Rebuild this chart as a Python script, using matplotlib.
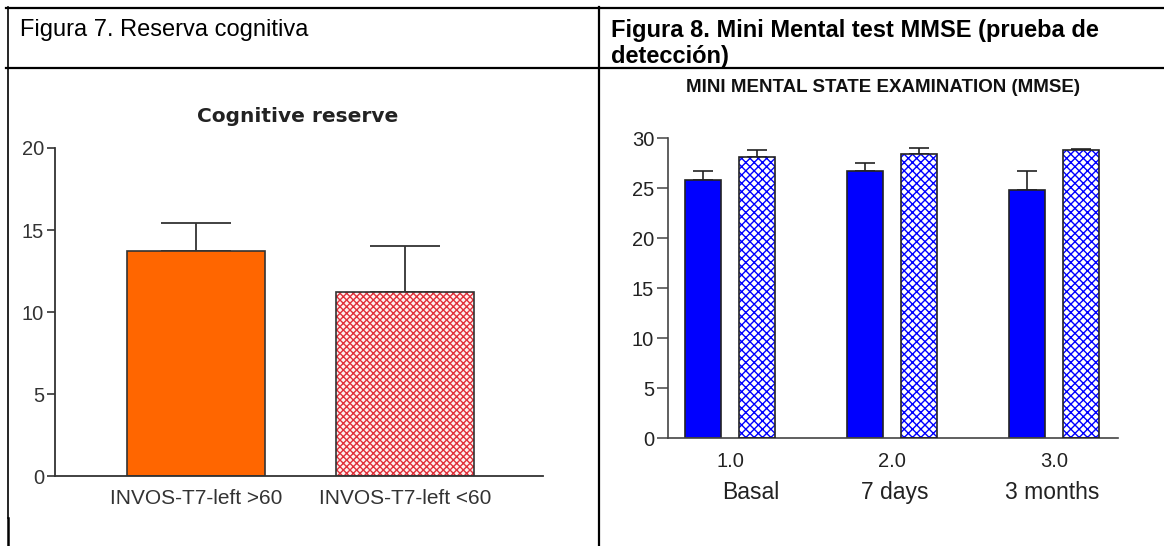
import matplotlib
matplotlib.use("Agg")
import matplotlib.pyplot as plt
from matplotlib.lines import Line2D

plt.rcParams['font.family'] = ['Liberation Sans', 'DejaVu Sans']
plt.rcParams['hatch.linewidth'] = 1.0

# ---- data: cognitive reserve ----
cr_groups = ["INVOS-T7-left >60", "INVOS-T7-left <60"]
cr_means = [13.7, 11.2]
cr_err = [1.7, 2.8]
cr_yticks = [0, 5, 10, 15, 20]

# ---- data: MMSE ----
mm_ticks = [1.0, 2.0, 3.0]
mm_tick_labels = ["1.0", "2.0", "3.0"]
mm_periods = ["Basal", "7 days", "3 months"]
mm_solid = [25.8, 26.7, 24.8]
mm_solid_err = [0.9, 0.8, 1.9]
mm_hatched = [28.1, 28.4, 28.8]
mm_hatched_err = [0.7, 0.6, 0.15]
mm_yticks = [0, 5, 10, 15, 20, 25, 30]

W, H = 1164, 546
fig = plt.figure(figsize=(W / 100, H / 100), dpi=100)
fig.patch.set_facecolor("white")


def box(x0, y0, x1, y1):
    """Axes rectangle from pixel coordinates (top-left origin)."""
    return [x0 / W, 1 - y1 / H, (x1 - x0) / W, (y1 - y0) / H]


def fx(x):
    return x / W


def fy(y):
    return 1 - y / H


# ---- table frame ----
frame_kw = dict(color="black", transform=fig.transFigure)
fig.add_artist(Line2D([fx(6), fx(1164)], [fy(8), fy(8)], lw=1.6, **frame_kw))
fig.add_artist(Line2D([fx(6), fx(1164)], [fy(67.5), fy(67.5)], lw=1.6, **frame_kw))
fig.add_artist(Line2D([fx(7.5), fx(7.5)], [fy(7), fy(518)], lw=1.2, **frame_kw))
fig.add_artist(Line2D([fx(7.5), fx(7.5)], [fy(518), fy(546)], lw=1.8, **frame_kw))
fig.add_artist(Line2D([fx(599), fx(599)], [fy(7), fy(546)], lw=1.6, **frame_kw))

fig.text(fx(20), fy(30), "Figura 7. Reserva cognitiva", fontsize=17,
         va="center", ha="left", color="black")
fig.text(fx(611), fy(31), "Figura 8. Mini Mental test MMSE (prueba de",
         fontsize=17, fontweight="bold", va="center", ha="left", color="black")
fig.text(fx(611), fy(57), "detección)",
         fontsize=17, fontweight="bold", va="center", ha="left", color="black")

# ---- left chart: cognitive reserve ----
gray = "#333333"
ax1 = fig.add_axes(box(55, 148, 543, 476))
x1 = list(range(len(cr_groups)))
ax1.bar(x1[:1], cr_means[:1], width=0.66, color="#ff6600",
        edgecolor=gray, linewidth=1.2, zorder=2)
ax1.bar(x1[1:], cr_means[1:], width=0.66, color="#fff0f0",
        edgecolor="#e0303a", hatch="xxxxx", linewidth=0, zorder=2)
ax1.bar(x1[1:], cr_means[1:], width=0.66, fill=False,
        edgecolor=gray, linewidth=1.2, zorder=3)
ax1.errorbar(x1, cr_means, yerr=[[0] * len(cr_err), cr_err], fmt="none",
             ecolor=gray, elinewidth=1.3, capsize=25, capthick=1.3, zorder=1)
ax1.set_xlim(-0.675, 1.66)
ax1.set_ylim(0, 20)
ax1.set_yticks(cr_yticks)
ax1.set_yticklabels([str(v) for v in cr_yticks])
ax1.set_xticks(x1)
ax1.set_xticklabels(cr_groups)
ax1.tick_params(axis="x", length=0, pad=9, labelsize=15, labelcolor=gray)
ax1.tick_params(axis="y", length=6, width=1.2, color=gray, pad=2,
                labelsize=14.5, labelcolor=gray)
for s in ("top", "right"):
    ax1.spines[s].set_visible(False)
for s in ("left", "bottom"):
    ax1.spines[s].set_color(gray)
    ax1.spines[s].set_linewidth(1.3)
ax1.set_facecolor("none")
fig.text(fx(298), fy(116), "Cognitive reserve", fontsize=14.5,
         family="DejaVu Sans", fontweight="bold", ha="center", va="center",
         color="#222222")

# ---- right chart: MMSE ----
ax2 = fig.add_axes(box(668, 138, 1118, 438))
off = 0.165
bw = 0.22
xs = [t - off for t in mm_ticks]
xh = [t + off for t in mm_ticks]
ax2.bar(xs, mm_solid, width=bw, color="#0000ff", edgecolor="#222222",
        linewidth=1.2, zorder=2)
ax2.bar(xh, mm_hatched, width=bw, color="white", edgecolor="#0000ff",
        hatch="xxxx", linewidth=0, zorder=2)
ax2.bar(xh, mm_hatched, width=bw, fill=False, edgecolor="#222222",
        linewidth=1.2, zorder=3)
ax2.errorbar(xs, mm_solid, yerr=[[0] * 3, mm_solid_err], fmt="none",
             ecolor="#222222", elinewidth=1.2, capsize=7, capthick=1.2, zorder=1)
ax2.errorbar(xh, mm_hatched, yerr=[[0] * 3, mm_hatched_err], fmt="none",
             ecolor="#222222", elinewidth=1.2, capsize=7, capthick=1.2, zorder=1)
ax2.set_xlim(0.617, 3.395)
ax2.set_ylim(0, 30)
ax2.set_yticks(mm_yticks)
ax2.set_yticklabels([str(v) for v in mm_yticks])
ax2.set_xticks(mm_ticks)
ax2.set_xticklabels(mm_tick_labels)
ax2.tick_params(axis="x", length=0, pad=10, labelsize=14.5, labelcolor="#222222")
ax2.tick_params(axis="y", length=8, width=1.1, color="#444444", pad=2,
                labelsize=14.5, labelcolor="#222222")
for s in ("top", "right"):
    ax2.spines[s].set_visible(False)
for s in ("left", "bottom"):
    ax2.spines[s].set_color("#444444")
    ax2.spines[s].set_linewidth(1.2)
# period names under the numeric ticks (horizontal shift in points)
period_shift = [15, 2, -1]
for t, lab, dx in zip(mm_ticks, mm_periods, period_shift):
    ax2.annotate(lab, xy=(t, 0), xycoords=("data", "axes fraction"),
                 xytext=(dx, -39), textcoords="offset points", ha="center",
                 va="center", fontsize=16.5, color="#222222")
fig.text(fx(883), fy(88), "MINI MENTAL STATE EXAMINATION (MMSE)", fontsize=13.5,
         fontweight="bold", ha="center", va="center", color="#111111")

fig.savefig("out.png", dpi=100, facecolor="white")
